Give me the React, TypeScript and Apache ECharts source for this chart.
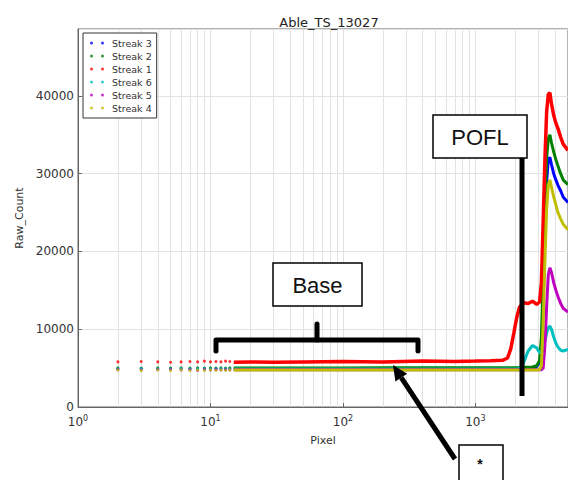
import React, { useEffect, useRef } from 'react';
import * as echarts from 'echarts';

const chartTitle = 'Able_TS_13027';
const streakNames = ['Streak 3', 'Streak 2', 'Streak 1', 'Streak 6', 'Streak 5', 'Streak 4'];
const streakColors = ['#0000ff', '#008000', '#ff0000', '#00bfbf', '#bf00bf', '#bfbf00'];

// sparse single-pixel points at low x
const dotPixels = [2, 3, 4, 5, 6, 7, 8, 9, 10, 11, 12, 13, 14];
const dotsStreak3 = [4950, 4950, 4900, 4950, 4950, 4900, 4950, 4950, 4900, 4950, 4950, 4900, 4950];
const dotsStreak2 = [5050, 5000, 5050, 5000, 5050, 5000, 5050, 5000, 5050, 5000, 5050, 5000, 5050];
const dotsStreak1 = [5800, 5850, 5800, 5750, 5800, 5850, 5800, 5900, 5800, 5850, 5800, 5900, 5850];
const dotsStreak6 = [4900, 4950, 4900, 4900, 4950, 4900, 4900, 4950, 4900, 4900, 4950, 4900, 4900];
const dotsStreak5 = [4800, 4750, 4800, 4800, 4750, 4800, 4700, 4800, 4750, 4800, 4750, 4800, 4750];
const dotsStreak4 = [4750, 4700, 4750, 4700, 4750, 4700, 4750, 4700, 4750, 4700, 4750, 4700, 4750];

// dense region (points merge into a thick trace)
const curvePixels = [15, 20, 30, 50, 100, 200, 400, 700, 1000, 1300, 1600, 1750, 1850, 1950, 2050, 2150, 2300, 2500, 2700, 2900, 3050, 3150, 3250, 3350, 3450, 3550, 3650, 3750, 3900, 4050, 4200, 4400, 4600, 5000];
const curveStreak3 = [4950, 4950, 4950, 4950, 4950, 4950, 4950, 4950, 4950, 4950, 4950, 4950, 4950, 4950, 4950, 4950, 4950, 5000, 5050, 5200, 5700, 6500, 14000, 23000, 29000, 31800, 32100, 31200, 30000, 29200, 28500, 27800, 27000, 26300];
const curveStreak2 = [5000, 5000, 5000, 5000, 5000, 5050, 5050, 5050, 5050, 5050, 5050, 5050, 5050, 5050, 5050, 5050, 5100, 5100, 5150, 5300, 6000, 9000, 17000, 26000, 32000, 34500, 35000, 34000, 32800, 31800, 31000, 30000, 29200, 28600];
const curveStreak1 = [5750, 5800, 5750, 5800, 5850, 5800, 5900, 5850, 5900, 5950, 6000, 6300, 7500, 9500, 11500, 12800, 13400, 13300, 13600, 13200, 13500, 16000, 24000, 32000, 38000, 40200, 40400, 39000, 37500, 36500, 35800, 34700, 33800, 33000];
const curveStreak6 = [4900, 4900, 4900, 4900, 4900, 4900, 4900, 4900, 4900, 4900, 4900, 4900, 4900, 4900, 4900, 4950, 5600, 7200, 7900, 7600, 7000, 7000, 7500, 8500, 9500, 10200, 10400, 10000, 9000, 8200, 7700, 7300, 7200, 7400];
const curveStreak5 = [4800, 4800, 4800, 4800, 4800, 4800, 4800, 4800, 4800, 4800, 4800, 4800, 4800, 4800, 4800, 4800, 4800, 4800, 4800, 4800, 4800, 4800, 5000, 8000, 13000, 17000, 17900, 17300, 16000, 15000, 14200, 13300, 12700, 12200];
const curveStreak4 = [4750, 4750, 4750, 4750, 4750, 4750, 4750, 4750, 4750, 4750, 4750, 4750, 4750, 4750, 4750, 4750, 4750, 4750, 4750, 4750, 4800, 5300, 11000, 19000, 25500, 28600, 29200, 28300, 27000, 26000, 25000, 24200, 23500, 22800];

const xGridValues = [2, 3, 4, 5, 6, 7, 8, 9, 10, 20, 30, 40, 50, 60, 70, 80, 90, 100, 200, 300, 400, 500, 600, 700, 800, 900, 1000, 2000, 3000, 4000];
const yTickValues = [0, 10000, 20000, 30000, 40000];

const dotSets = [dotsStreak3, dotsStreak2, dotsStreak1, dotsStreak6, dotsStreak5, dotsStreak4];
const curveSets = [curveStreak3, curveStreak2, curveStreak1, curveStreak6, curveStreak5, curveStreak4];

const FONT = '"DejaVu Sans", sans-serif';
const ANNOT = '"Liberation Sans", Arial, sans-serif';

export default function App() {
  const ref = useRef<HTMLDivElement>(null);
  useEffect(() => {
    if (!ref.current) return;
    const chart = echarts.init(ref.current, undefined, { renderer: 'svg' });
    const series: any[] = [];
    series.push({
      type: 'line',
      name: '__grid',
      data: [],
      z: 0,
      silent: true,
      markLine: {
        silent: true,
        z: 0,
        symbol: ['none', 'none'],
        label: { show: false },
        lineStyle: { color: '#e2e2e2', width: 1, type: 'solid' },
        emphasis: { disabled: true },
        data: xGridValues.map((v) => ({ xAxis: v })),
      },
    });
    streakNames.forEach((name, i) => {
      series.push({
        type: 'scatter',
        name,
        data: dotPixels.map((x, k) => [x, dotSets[i][k]]),
        symbol: 'circle',
        symbolSize: 3,
        itemStyle: { color: streakColors[i] },
        z: 2,
      });
      series.push({
        type: 'line',
        name,
        data: curvePixels.map((x, k) => [x, curveSets[i][k]]),
        symbol: 'none',
        showSymbol: false,
        itemStyle: { color: streakColors[i] },
        lineStyle: { color: streakColors[i], width: name === 'Streak 1' ? 3.5 : 3 },
        z: 2,
      });
    });

    const tip = [393, 365];
    const tail = [455, 459];
    const dx = tail[0] - tip[0];
    const dy = tail[1] - tip[1];
    const len = Math.sqrt(dx * dx + dy * dy);
    const ux = dx / len, uy = dy / len;
    const bx = tip[0] + ux * 15, by = tip[1] + uy * 15;
    const px = -uy, py = ux;

    chart.setOption({
      animation: false,
      backgroundColor: '#fff',
      textStyle: { fontFamily: FONT },
      title: {
        text: chartTitle,
        left: 324,
        top: 11,
        textAlign: 'center',
        textStyle: { fontFamily: FONT, fontSize: 13, fontWeight: 'normal', color: '#222' },
      },
      legend: {
        data: streakNames,
        orient: 'vertical',
        left: 83,
        top: 33,
        padding: [5, 5, 5, 7],
        itemGap: 3,
        itemWidth: 14,
        itemHeight: 3,
        icon: 'path://M0,1.5a1.5,1.5 0 1,0 3,0a1.5,1.5 0 1,0 -3,0zM11,1.5a1.5,1.5 0 1,0 3,0a1.5,1.5 0 1,0 -3,0z',
        backgroundColor: '#fff',
        borderColor: '#333',
        borderWidth: 1,
        textStyle: { fontFamily: FONT, fontSize: 9.5, lineHeight: 10, color: '#333', padding: [0, 0, 0, 3] },
        selectedMode: false,
      },
      grid: {
        left: 78,
        top: 29,
        width: 492,
        height: 378,
        show: true,
        borderColor: '#666',
        borderWidth: 1,
        backgroundColor: 'transparent',
      },
      xAxis: {
        type: 'log',
        logBase: 10,
        min: 1,
        max: 5000,
        name: 'Pixel',
        nameLocation: 'middle',
        nameGap: 28,
        nameTextStyle: { fontFamily: FONT, fontSize: 11, color: '#333' },
        axisLine: { show: true, lineStyle: { color: '#666', width: 1 } },
        axisTick: { show: true, inside: true, length: 4, lineStyle: { color: '#666' } },
        splitLine: { show: false },
        axisLabel: {
          show: true,
          margin: 7,
          showMaxLabel: false,
          color: '#333',
          fontFamily: FONT,
          fontSize: 12,
          formatter: (v: number) => {
            const e = Math.round(Math.log10(v));
            if (Math.abs(Math.log10(v) - e) > 1e-6) return '';
            return '10{sup|' + e + '}';
          },
          rich: {
            sup: { fontSize: 8, fontFamily: FONT, color: '#333', verticalAlign: 'bottom', padding: [0, 0, 7, 0] },
          },
        },
      },
      yAxis: {
        type: 'value',
        min: 0,
        max: 48600,
        interval: 10000,
        name: 'Raw_Count',
        nameLocation: 'middle',
        nameGap: 46,
        nameTextStyle: { fontFamily: FONT, fontSize: 11, color: '#333' },
        axisLine: { show: true, lineStyle: { color: '#666', width: 1 } },
        axisTick: { show: true, inside: true, length: 4, lineStyle: { color: '#666' } },
        splitLine: { show: true, lineStyle: { color: '#e2e2e2', width: 1 } },
        axisLabel: {
          margin: 4,
          color: '#333',
          fontFamily: FONT,
          fontSize: 12,
          showMaxLabel: false,
          formatter: (v: number) => (yTickValues.includes(v) ? String(v) : ''),
        },
      },
      series,
      graphic: [
        {
          type: 'rect',
          z: 100,
          shape: { x: 273, y: 263, width: 89, height: 43 },
          style: { fill: '#fff', stroke: '#000', lineWidth: 1.5 },
        },
        {
          type: 'text',
          z: 101,
          x: 317.5,
          y: 285,
          style: { text: 'Base', fontSize: 22, fontFamily: ANNOT, fill: '#111', align: 'center', verticalAlign: 'middle', textAlign: 'center', textVerticalAlign: 'middle' },
        },
        {
          type: 'polyline',
          z: 100,
          shape: { points: [[216, 351], [216, 340], [418, 340], [418, 351]] },
          style: { stroke: '#000', lineWidth: 5, fill: null, lineJoin: 'round', lineCap: 'round' },
        },
        {
          type: 'line',
          z: 100,
          shape: { x1: 317, y1: 340, x2: 317, y2: 324 },
          style: { stroke: '#000', lineWidth: 5, lineCap: 'round' },
        },
        {
          type: 'rect',
          z: 100,
          shape: { x: 433, y: 115, width: 94, height: 43 },
          style: { fill: '#fff', stroke: '#000', lineWidth: 1.5 },
        },
        {
          type: 'text',
          z: 101,
          x: 480,
          y: 137,
          style: { text: 'POFL', fontSize: 22, fontFamily: ANNOT, fill: '#111', align: 'center', verticalAlign: 'middle', textAlign: 'center', textVerticalAlign: 'middle' },
        },
        {
          type: 'line',
          z: 100,
          shape: { x1: 522, y1: 158, x2: 522, y2: 396 },
          style: { stroke: '#000', lineWidth: 5 },
        },
        {
          type: 'line',
          z: 100,
          shape: { x1: tail[0], y1: tail[1], x2: bx, y2: by },
          style: { stroke: '#000', lineWidth: 5 },
        },
        {
          type: 'polygon',
          z: 100,
          shape: { points: [[tip[0], tip[1]], [bx + px * 7, by + py * 7], [bx - px * 7, by - py * 7]] },
          style: { fill: '#000' },
        },
        {
          type: 'rect',
          z: 100,
          shape: { x: 459, y: 445, width: 44, height: 45 },
          style: { fill: '#fff', stroke: '#000', lineWidth: 1.5 },
        },
        {
          type: 'text',
          z: 101,
          x: 480,
          y: 464,
          style: { text: '*', fontSize: 14, fontFamily: ANNOT, fontWeight: 'bold', fill: '#111', align: 'center', verticalAlign: 'middle', textAlign: 'center', textVerticalAlign: 'middle' },
        },
      ],
    });
    return () => chart.dispose();
  }, []);
  return <div ref={ref} style={{ width: 568, height: 480, position: 'absolute', left: 0, top: 0 }} />;
}
